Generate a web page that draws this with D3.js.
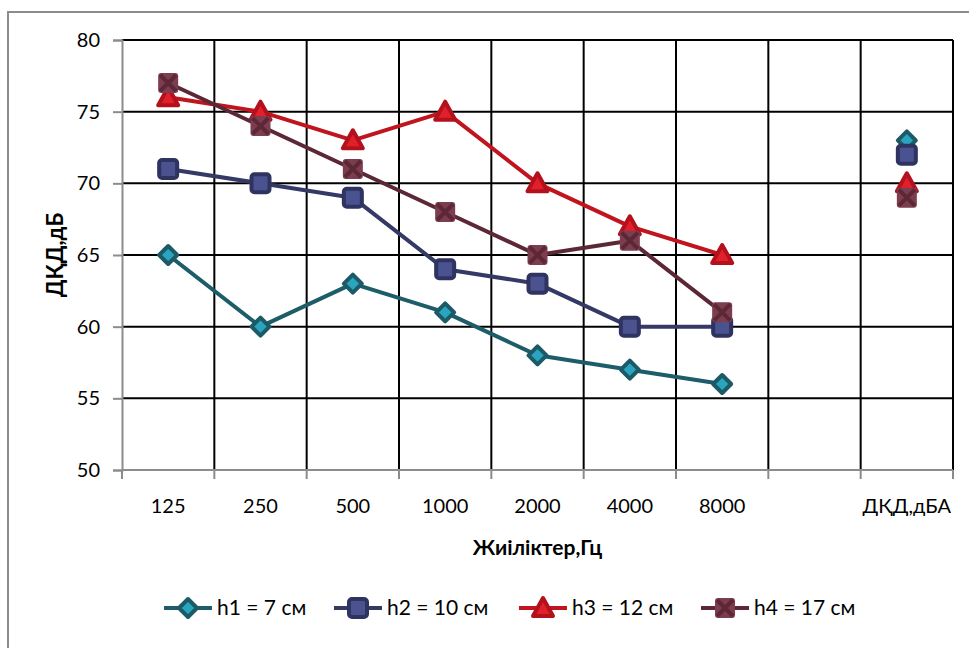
<!DOCTYPE html>
<html>
<head>
<meta charset="utf-8">
<script src="https://cdn.jsdelivr.net/npm/d3@7"></script>
<style>
  html, body { margin: 0; padding: 0; background: #fff; }
  svg { display: block; font-family: Lato, "Open Sans", sans-serif; }
</style>
</head>
<body>
<svg id="chart" width="969" height="648"></svg>
<script>
// Frequency bands (the last column holds the overall A-weighted level)
const categories = ["125", "250", "500", "1000", "2000", "4000", "8000", "", "ДҚД,дБА"];
const seriesNames = ["h1 = 7 см", "h2 = 10 см", "h3 = 12 см", "h4 = 17 см"];
const h1 = [65, 60, 63, 61, 58, 57, 56, null, 73];
const h2 = [71, 70, 69, 64, 63, 60, 60, null, 72];
const h3 = [76, 75, 73, 75, 70, 67, 65, null, 70];
const h4 = [77, 74, 71, 68, 65, 66, 61, null, 69];
const yTicks = [50, 55, 60, 65, 70, 75, 80];
const xTitle = "Жиіліктер,Гц";
const yTitle = "ДҚД,дБ";

const seriesValues = [h1, h2, h3, h4];
const styles = [
  { line: "#1d5d69", stroke: "#1b5a66", fill: "#2ba4c0", shape: "diamond" },
  { line: "#353966", stroke: "#2f3360", fill: "#4a5290", shape: "square" },
  { line: "#c0141e", stroke: "#b3121c", fill: "#e2202c", shape: "triangle" },
  { line: "#5c2836", stroke: "#5c2836", fill: "#7d3d50", shape: "cross" }
];

const svg = d3.select("#chart");
const plot = { left: 122, right: 953, top: 40, bottom: 470 };

// Outer chart frame
svg.append("rect")
  .attr("x", 8).attr("y", 12).attr("width", 980).attr("height", 660)
  .attr("fill", "none").attr("stroke", "#8c8c8c").attr("stroke-width", 2);

const x = d3.scaleBand().domain(d3.range(categories.length)).range([plot.left, plot.right]).padding(0);
const y = d3.scaleLinear().domain([50, 80]).range([plot.bottom, plot.top]);

// Horizontal gridlines
svg.append("g").selectAll("line").data(yTicks.filter(v => v > 50)).join("line")
  .attr("x1", plot.left).attr("x2", plot.right)
  .attr("y1", d => y(d)).attr("y2", d => y(d))
  .attr("stroke", "#000").attr("stroke-width", 2);

// Vertical gridlines at category boundaries
const bounds = d3.range(1, categories.length + 1).map(i => plot.left + i * x.bandwidth());
svg.append("g").selectAll("line").data(bounds).join("line")
  .attr("x1", d => d).attr("x2", d => d)
  .attr("y1", plot.top).attr("y2", plot.bottom)
  .attr("stroke", "#000").attr("stroke-width", 2);

// Y axis
const yAxis = svg.append("g").attr("transform", `translate(${plot.left},0)`)
  .call(d3.axisLeft(y).tickValues(yTicks).tickSize(9).tickPadding(13));
yAxis.select(".domain").attr("stroke", "#8c8c8c").attr("stroke-width", 2);
yAxis.selectAll(".tick line").attr("stroke", "#8c8c8c").attr("stroke-width", 2);
yAxis.selectAll(".tick text").attr("font-size", 20).attr("fill", "#000").attr("font-family", "Lato, sans-serif");

// X axis: ticks sit on band boundaries, labels at band centres
const xAxisG = svg.append("g").attr("transform", `translate(0,${plot.bottom})`);
xAxisG.append("line").attr("x1", plot.left).attr("x2", plot.right)
  .attr("stroke", "#8c8c8c").attr("stroke-width", 2);
xAxisG.selectAll("line.tk").data([plot.left, ...bounds]).join("line").attr("class", "tk")
  .attr("x1", d => d).attr("x2", d => d).attr("y1", 0).attr("y2", 9)
  .attr("stroke", "#8c8c8c").attr("stroke-width", 2);
xAxisG.selectAll("text").data(categories.map((c, i) => ({ c, i }))).join("text")
  .attr("x", d => x(d.i) + x.bandwidth() / 2).attr("y", 43)
  .attr("text-anchor", "middle").attr("font-size", 20).attr("fill", "#000")
  .text(d => d.c);

// Axis titles
svg.append("text").attr("x", (plot.left + plot.right) / 2).attr("y", 555)
  .attr("text-anchor", "middle").attr("font-size", 21).attr("font-weight", "bold")
  .text(xTitle);
svg.append("text").attr("transform", `translate(63,${(plot.top + plot.bottom) / 2}) rotate(-90)`)
  .attr("text-anchor", "middle").attr("font-size", 22).attr("font-weight", "bold")
  .text(yTitle);

// Marker drawing
function drawMarker(g, shape, st) {
  if (shape === "diamond") {
    g.append("path").attr("d", "M0,-9L9,0L0,9L-9,0Z")
      .attr("fill", st.fill).attr("stroke", st.stroke).attr("stroke-width", 4).attr("stroke-linejoin", "round");
  } else if (shape === "square") {
    g.append("rect").attr("x", -9).attr("y", -9).attr("width", 18).attr("height", 18).attr("rx", 3)
      .attr("fill", st.fill).attr("stroke", st.stroke).attr("stroke-width", 4);
  } else if (shape === "triangle") {
    g.append("path").attr("d", "M0,-10L10,8L-10,8Z")
      .attr("fill", st.fill).attr("stroke", st.stroke).attr("stroke-width", 4).attr("stroke-linejoin", "round");
  } else {
    g.append("rect").attr("x", -10).attr("y", -10).attr("width", 20).attr("height", 20).attr("rx", 3)
      .attr("fill", st.fill);
    g.append("path").attr("d", "M-8,-8L8,8M8,-8L-8,8")
      .attr("stroke", st.stroke).attr("stroke-width", 4);
  }
}

const line = d3.line()
  .defined(d => d.v !== null && d.i < 7)
  .x(d => x(d.i) + x.bandwidth() / 2)
  .y(d => y(d.v));

seriesValues.forEach((vals, s) => {
  const st = styles[s];
  const pts = vals.map((v, i) => ({ v, i }));
  const g = svg.append("g");
  g.append("path").datum(pts).attr("d", line)
    .attr("fill", "none").attr("stroke", st.line).attr("stroke-width", 4).attr("stroke-linejoin", "round");
  pts.filter(d => d.v !== null).forEach(d => {
    const m = g.append("g").attr("transform", `translate(${x(d.i) + x.bandwidth() / 2},${y(d.v)})`);
    drawMarker(m, st.shape, st);
  });
});

// Legend
const legendX = [164, 334, 519, 701];
const legend = svg.append("g").attr("transform", "translate(0,608)");
seriesNames.forEach((name, s) => {
  const st = styles[s];
  const lx = legendX[s];
  legend.append("line").attr("x1", lx).attr("x2", lx + 48).attr("y1", 0).attr("y2", 0)
    .attr("stroke", st.line).attr("stroke-width", 4);
  const m = legend.append("g").attr("transform", `translate(${lx + 24},0)`);
  drawMarker(m, st.shape, st);
  legend.append("text").attr("x", lx + 53).attr("y", 7).attr("font-size", 21).text(name);
});
</script>
</body>
</html>
